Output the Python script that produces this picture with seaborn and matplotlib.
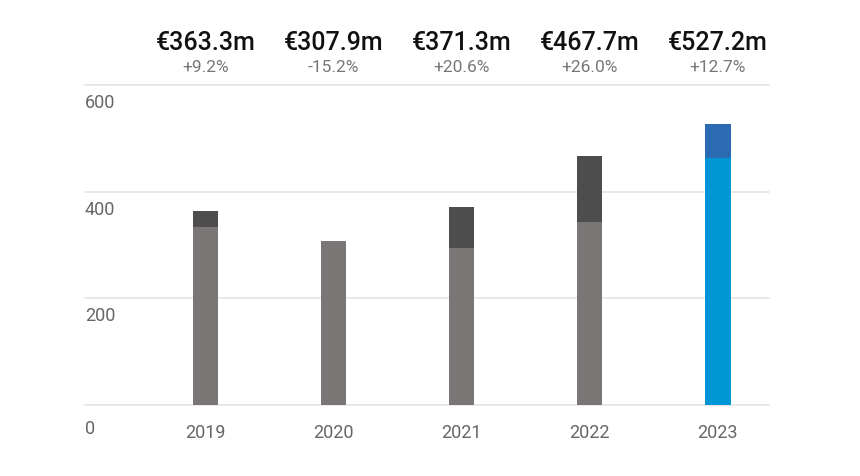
import matplotlib
matplotlib.use("Agg")
import matplotlib.pyplot as plt
import matplotlib.transforms as mtransforms
import pandas as pd
import seaborn as sns

# ---------------- DATA ----------------
years = ["2019", "2020", "2021", "2022", "2023"]
totals = [363.3, 307.9, 371.3, 467.7, 527.2]
base_values = [333.0, 307.9, 294.0, 344.0, 463.0]
growth_labels = ["+9.2%", "-15.2%", "+20.6%", "+26.0%", "+12.7%"]
y_ticks = [0, 200, 400, 600]

base_colors = ["#7a7675", "#7a7675", "#7a7675", "#7a7675", "#0096d6"]
top_colors = ["#4e4d4d", "#4e4d4d", "#4e4d4d", "#4e4d4d", "#2a6bb3"]

df = pd.DataFrame({"year": years, "total": totals, "base": base_values})

sns.set_theme(style="white")
plt.rcParams["font.family"] = ["Roboto", "DejaVu Sans"]

fig = plt.figure(figsize=(8.6, 4.76), dpi=100)
ax = fig.add_axes([85 / 860, 71 / 476, 684 / 860, 320 / 476])

# totals first (upper colour), base drawn over it
sns.barplot(data=df, x="year", y="total", hue="year", palette=top_colors,
            width=0.2, saturation=1, legend=False, linewidth=0, ax=ax)
sns.barplot(data=df, x="year", y="base", hue="year", palette=base_colors,
            width=0.2, saturation=1, legend=False, linewidth=0, ax=ax)

ax.set_xlim(-0.94, 4.40)
ax.set_ylim(0, 600)
ax.set_xlabel("")
ax.set_ylabel("")

sns.despine(ax=ax, left=True, bottom=True)
ax.set_yticks(y_ticks)
ax.set_yticklabels([])
ax.yaxis.grid(True, color="#e6e6e6", linewidth=1.3)
for line in ax.get_ygridlines():
    line.set_clip_on(False)
ax.set_axisbelow(True)
ax.tick_params(axis="y", length=0)
ax.tick_params(axis="x", length=0, pad=14, labelsize=13, labelcolor="#666666")

# y labels sit under their gridlines
for v in y_ticks:
    dy = -24 if v == 0 else -18
    ax.annotate(str(v), xy=(0, v), xycoords=ax.get_yaxis_transform(),
                xytext=(0, dy * 0.72), textcoords="offset points",
                ha="left", va="center", fontsize=13, color="#666666")

# header: totals and growth
trans = mtransforms.blended_transform_factory(ax.transData, fig.transFigure)
for i, (t, g) in enumerate(zip(totals, growth_labels)):
    fig.text(i, 1 - 49.5 / 476, f"€{t:.1f}m", transform=trans, ha="center",
             va="baseline", fontsize=18, fontweight="medium", color="#111111")
    fig.text(i, 1 - 72.5 / 476, g, transform=trans, ha="center",
             va="baseline", fontsize=12.5, color="#777777")

fig.savefig("out.png", dpi=100, facecolor="white")
